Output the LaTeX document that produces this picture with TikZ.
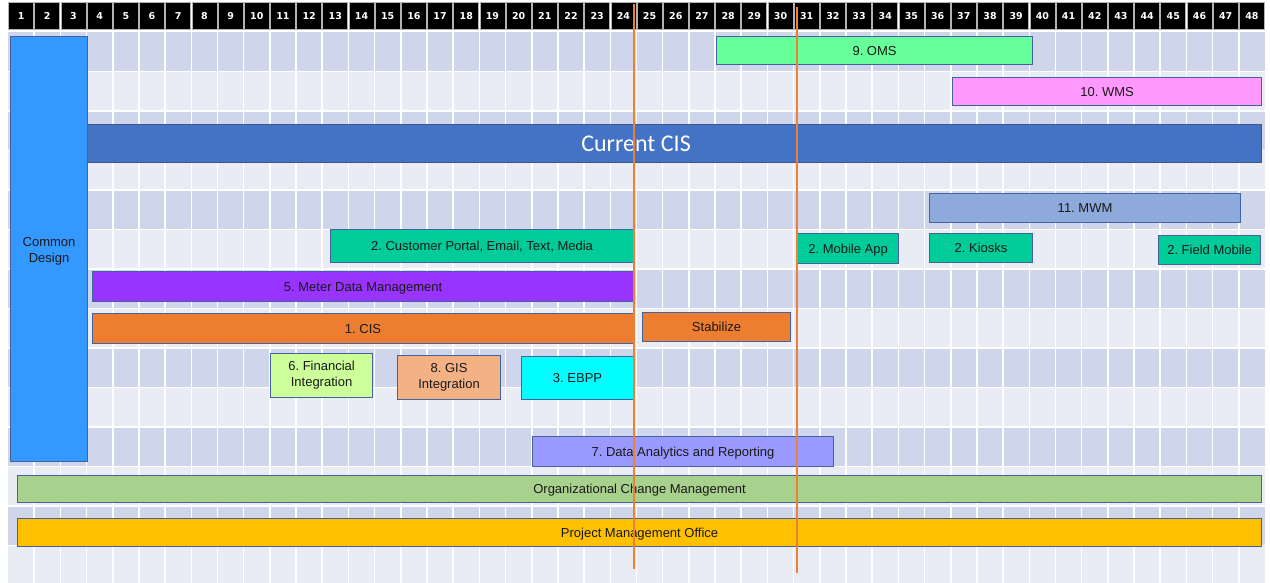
\documentclass[tikz,border=0pt]{standalone}
\usepackage{fontspec}
\setmainfont{Liberation Sans}
\newfontfamily\hdrfont{DejaVu Sans}
\newfontfamily\cisfont{Carlito}
\frenchspacing

\definecolor{banddark}{HTML}{CFD5EA}
\definecolor{bandlight}{HTML}{E9EBF5}
\definecolor{barline}{HTML}{44629E}
\definecolor{cdblue}{HTML}{3399FF}
\definecolor{omsgreen}{HTML}{66FF99}
\definecolor{wmspink}{HTML}{FF99FF}
\definecolor{cisblue}{HTML}{4472C4}
\definecolor{mwmblue}{HTML}{8EA9DB}
\definecolor{teal}{HTML}{00CC99}
\definecolor{mdmpurple}{HTML}{9933FF}
\definecolor{cisorange}{HTML}{ED7D31}
\definecolor{fingreen}{HTML}{CCFF99}
\definecolor{gispeach}{HTML}{F4B183}
\definecolor{ebppcyan}{HTML}{00FFFF}
\definecolor{darviolet}{HTML}{9999FF}
\definecolor{ocmgreen}{HTML}{A9D18E}
\definecolor{pmogold}{HTML}{FFC000}
\definecolor{markerorange}{HTML}{EE7F35}

% one Gantt bar: options, name, x1, y1, x2, y2, fill, label
\newcommand\ganttbar[8][]{%
  \node[bar, fill=#7, minimum width={#5-#3}, minimum height={#6-#4},
        anchor=north west, #1] (#2) at (#3,#4) {#8};}

\begin{document}
\begin{tikzpicture}[x=1pt, y=-1pt,
  bar/.style={draw=barline, line width=1.1pt, inner sep=0pt, align=center,
    text=black!90, font=\fontsize{13}{16}\selectfont,
    text height=9.4pt, text depth=0pt},
  twoline/.style={text height=, text depth=},
  hdrcell/.style={fill=black, draw=gray!60, line width=0.8pt,
    minimum width=25pt, minimum height=27pt, inner sep=0pt, text=white,
    font=\hdrfont\bfseries\fontsize{9.5}{10}\selectfont},
  gridline/.style={white, line width=1.6pt},
  marker/.style={markerorange, line width=1.8pt}]

\useasboundingbox (0,0) rectangle (1270,583);
\fill[white] (0,0) rectangle (1270,583);

% alternating row bands
\begin{scope}
\clip (0,0) rectangle (1270,583);
\foreach \r in {0,...,13}{
  \pgfmathsetmacro\yt{32+39.5*\r}
  \ifodd\r
    \fill[bandlight] (8,\yt) rectangle (1265,\yt+39.5);
  \else
    \fill[banddark] (8,\yt) rectangle (1265,\yt+39.5);
  \fi
}
% cell separators
\foreach \k in {1,...,47}{
  \draw[gridline] ({8+\k*26.1875},32) -- ({8+\k*26.1875},583);
}
\foreach \r in {1,...,13}{
  \draw[gridline] (8,{32+39.5*\r}) -- (1265,{32+39.5*\r});
}
\end{scope}

% month header
\foreach \i in {1,...,48}{
  \node[hdrcell] (h\i) at ({8+(\i-0.5)*26.1875},16) {\i};
}

% work streams (the current system runs underneath the design phase)
\node[bar, draw=barline!90!black, fill=cisblue, minimum width=1251, minimum height=38,
      anchor=north west, text=white, font=\cisfont\fontsize{24}{26}\selectfont,
      text height=, text depth=]
      (ccis) at (10,124) {Current CIS};
\ganttbar[twoline]{cd}{10}{36}{87}{461}{cdblue}{\rule{0pt}{13pt}Common\\Design}
\ganttbar{oms}{716}{36}{1032}{64}{omsgreen}{9. OMS}
\ganttbar{wms}{952}{77}{1261}{105}{wmspink}{10. WMS}
\ganttbar{mwm}{929}{193}{1240}{222}{mwmblue}{11. MWM}
\ganttbar{portal}{330}{229}{633}{262}{teal}{2. Customer Portal, Email, Text, Media}
\ganttbar{mobile}{797}{233}{898}{263}{teal}{2. Mobile App}
\ganttbar{kiosks}{929}{233}{1032}{262}{teal}{2. Kiosks}
\ganttbar{field}{1158}{235}{1260}{264}{teal}{2. Field Mobile}
\ganttbar{mdm}{92}{271}{633}{301}{mdmpurple}{5. Meter Data Management}
\ganttbar{cis}{92}{313}{633}{343}{cisorange}{1. CIS}
\ganttbar{stab}{642}{312}{790}{341}{cisorange}{Stabilize}
\ganttbar[twoline]{fin}{270}{353}{372}{397}{fingreen}{6. Financial\\Integration}
\ganttbar[twoline]{gis}{397}{355}{500}{399}{gispeach}{8. GIS\\Integration}
\ganttbar{ebpp}{521}{356}{633}{399}{ebppcyan}{3. EBPP}
\ganttbar{dar}{532}{436}{833}{466}{darviolet}{7. Data Analytics and Reporting}
\ganttbar{ocm}{17}{475}{1261}{502}{ocmgreen}{Organizational Change Management}
\ganttbar{pmo}{17}{518}{1261}{546}{pmogold}{Project Management Office}

% milestone markers
\coordinate (m1top) at (634,4);
\coordinate (m1bot) at (634,569);
\coordinate (m2top) at (797,7);
\coordinate (m2bot) at (797,573);
\draw[marker] (m1top) -- (m1bot);
\draw[marker] (m2top) -- (m2bot);
\end{tikzpicture}
\end{document}
